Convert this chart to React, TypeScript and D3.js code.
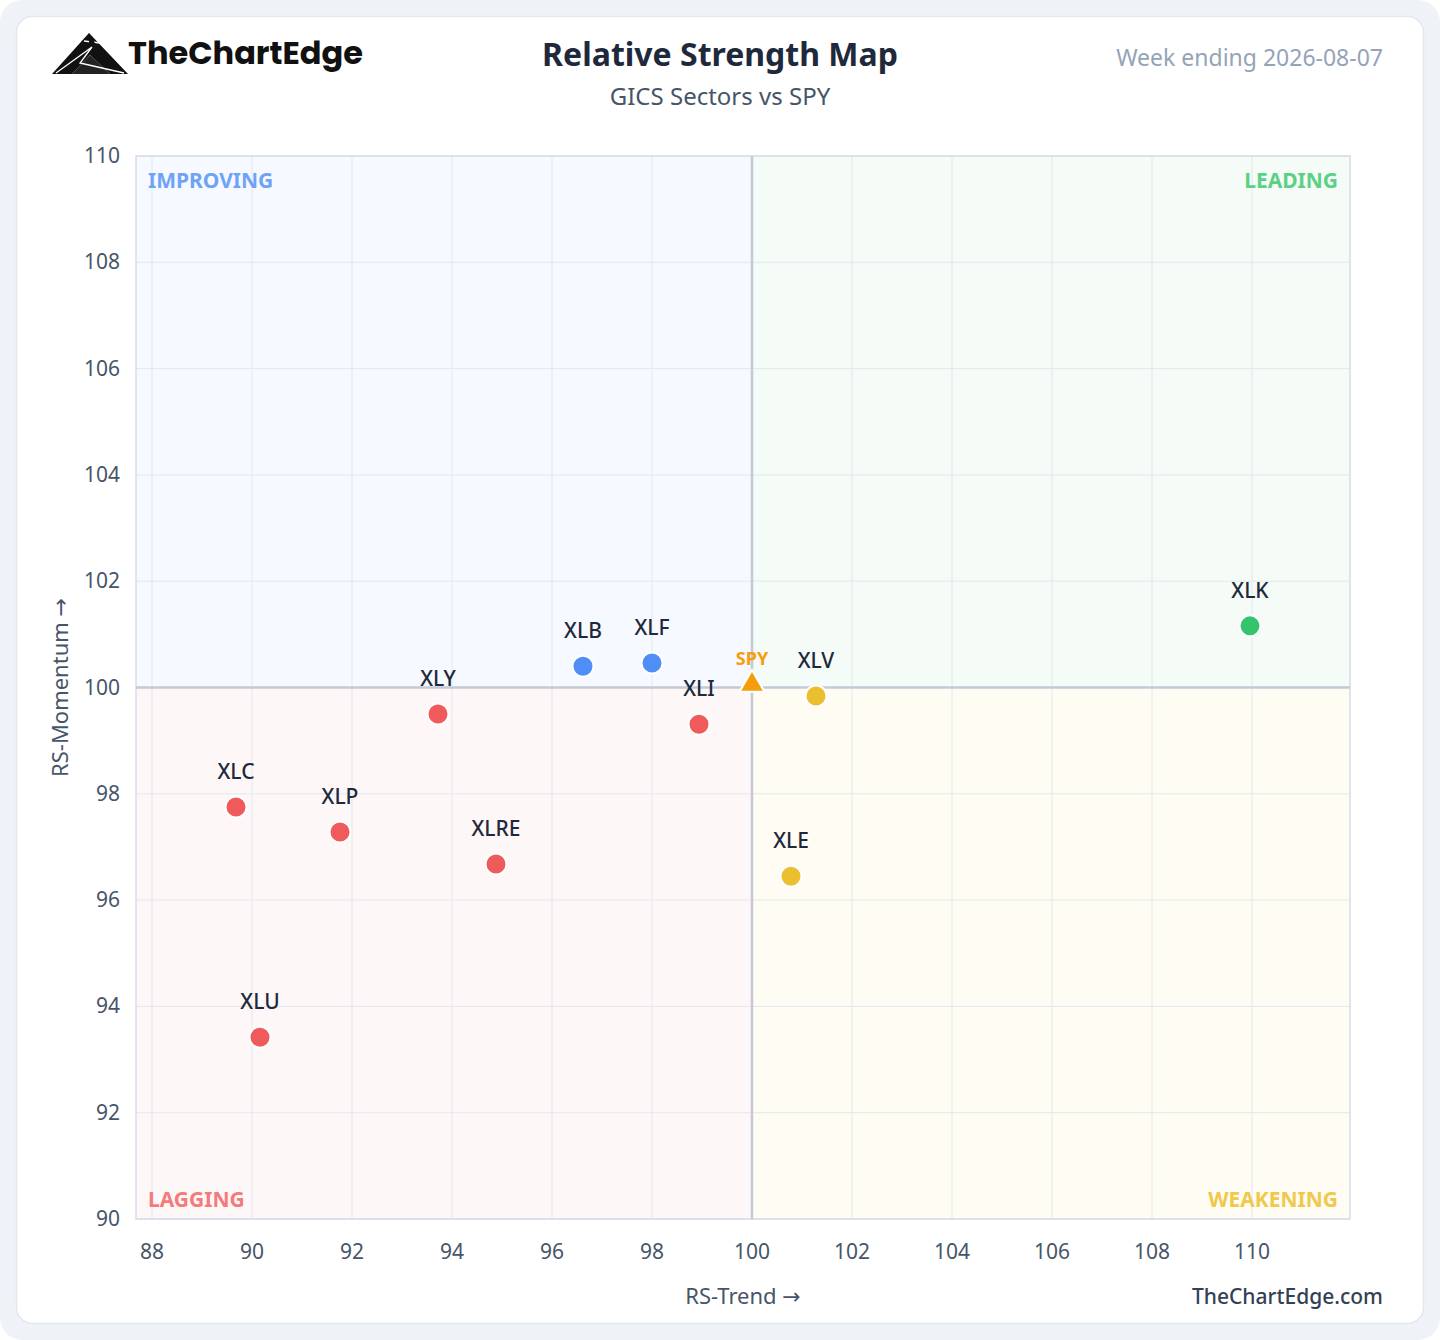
import React from "react";
import * as d3 from "d3";

const tickers = ["XLK", "XLV", "XLE", "XLI", "XLF", "XLB", "XLY", "XLC", "XLP", "XLRE", "XLU"];
const rsTrend = [109.96, 101.28, 100.78, 98.94, 98.0, 96.62, 93.72, 89.68, 91.76, 94.88, 90.16];
const rsMomentum = [101.16, 99.84, 96.45, 99.31, 100.46, 100.4, 99.5, 97.75, 97.28, 96.68, 93.42];
const benchmark = { name: "SPY", x: 100, y: 100 };
const xTicks = [88, 90, 92, 94, 96, 98, 100, 102, 104, 106, 108, 110];
const yTicks = [90, 92, 94, 96, 98, 100, 102, 104, 106, 108, 110];
const quadrantNames = ["IMPROVING", "LEADING", "LAGGING", "WEAKENING"];

const FONT = "'Noto Sans', 'Open Sans', sans-serif";
const ARROW_FONT = "'DejaVu Sans', sans-serif";

const quadColor = (x: number, y: number) => {
  if (x >= 100 && y >= 100) return "#34c46e";
  if (x < 100 && y >= 100) return "#4f8ef7";
  if (x < 100 && y < 100) return "#ef5b5b";
  return "#ecbf30";
};

export default function App() {
  const W = 1440;
  const H = 1340;
  const left = 136, right = 1350, top = 156, bottom = 1219;
  const x = d3.scaleLinear().domain([87.68, 111.96]).range([left, right]);
  const y = d3.scaleLinear().domain([90, 110]).range([bottom, top]);
  const cx = x(100), cy = y(100);

  const tri = d3.symbol().type(d3.symbolTriangle).size(270)();

  return (
    <svg width={W} height={H} style={{ position: "absolute", left: 0, top: 0, display: "block" }} fontFamily={FONT}>
      <rect x={0} y={0} width={W} height={H} rx={22} fill="#eff3f8" />
      <rect x={16.5} y={16.5} width={1407} height={1307} rx={16} fill="#ffffff" stroke="#e2e8f0" strokeWidth={1.5} />

      {/* Logo */}
      <g transform="translate(52,33)">
        <path d="M0,41 L37,0 L76,41 L58,41 L38,22 L20,41 Z" fill="#111" />
        <path d="M20,41 L38,22 L58,41 Z" fill="#222" />
        <path d="M4,40 L40,14 M40,14 L28,30 L72,40 M32,8 L48,10" stroke="#fff" strokeWidth={1.3} fill="none" />
        <path d="M37,0 L44,12 L37,10 Z" fill="#111" />
      </g>
      <text x={128} y={64} fontSize={32} fontWeight={700} fill="#111" fontFamily="'Poppins','Lato','Noto Sans',sans-serif">TheChartEdge</text>

      {/* Header */}
      <text x={720} y={66} textAnchor="middle" fontSize={32} fontWeight={700} fill="#1e293b">Relative Strength Map</text>
      <text x={720} y={105} textAnchor="middle" fontSize={24} fill="#475569">GICS Sectors vs SPY</text>
      <text x={1383} y={66} textAnchor="end" fontSize={23} fill="#94a3b8">Week ending 2026-08-07</text>

      {/* Quadrants */}
      <rect x={left} y={top} width={cx - left} height={cy - top} fill="#f6f9ff" />
      <rect x={cx} y={top} width={right - cx} height={cy - top} fill="#f5fbf7" />
      <rect x={left} y={cy} width={cx - left} height={bottom - cy} fill="#fef7f7" />
      <rect x={cx} y={cy} width={right - cx} height={bottom - cy} fill="#fffcf4" />

      {/* Grid */}
      {xTicks.map((t) => (
        <line key={"gx" + t} x1={x(t)} x2={x(t)} y1={top} y2={bottom} stroke="#e2e8f0" strokeWidth={1} />
      ))}
      {yTicks.map((t) => (
        <line key={"gy" + t} x1={left} x2={right} y1={y(t)} y2={y(t)} stroke="#e2e8f0" strokeWidth={1} />
      ))}
      <rect x={left} y={top} width={right - left} height={bottom - top} fill="none" stroke="#d5dde8" strokeWidth={1.5} />
      <line x1={cx} x2={cx} y1={top} y2={bottom} stroke="#c3cad6" strokeWidth={2.5} />
      <line x1={left} x2={right} y1={cy} y2={cy} stroke="#c3cad6" strokeWidth={2.5} />

      {/* Quadrant labels */}
      <text x={left + 12} y={top + 32} fontSize={21} fontWeight={700} fill="#6ea3f7">{quadrantNames[0]}</text>
      <text x={right - 12} y={top + 32} textAnchor="end" fontSize={21} fontWeight={700} fill="#5ad185">{quadrantNames[1]}</text>
      <text x={left + 12} y={bottom - 12} fontSize={21} fontWeight={700} fill="#f47b7b">{quadrantNames[2]}</text>
      <text x={right - 12} y={bottom - 12} textAnchor="end" fontSize={21} fontWeight={700} fill="#f0c84a">{quadrantNames[3]}</text>

      {/* Tick labels */}
      {xTicks.map((t) => (
        <text key={"tx" + t} x={x(t)} y={bottom + 40} textAnchor="middle" fontSize={21} fill="#475569">{t}</text>
      ))}
      {yTicks.map((t) => (
        <text key={"ty" + t} x={120} y={y(t) + 7} textAnchor="end" fontSize={21} fill="#475569">{t}</text>
      ))}

      {/* Axis titles */}
      <text x={743} y={1304} textAnchor="middle" fontSize={22} fill="#475569">RS-Trend <tspan fontFamily={ARROW_FONT}>→</tspan></text>
      <text transform={`translate(68,${(top + bottom) / 2}) rotate(-90)`} textAnchor="middle" fontSize={22} fill="#475569">RS-Momentum <tspan fontFamily={ARROW_FONT}>→</tspan></text>
      <text x={1383} y={1304} textAnchor="end" fontSize={21} fontWeight={500} fill="#334155">TheChartEdge.com</text>

      {/* Points */}
      {tickers.map((t, i) => (
        <g key={t}>
          <circle cx={x(rsTrend[i])} cy={y(rsMomentum[i])} r={10.5} fill={quadColor(rsTrend[i], rsMomentum[i])} stroke="#fff" strokeWidth={2} />
          <text x={x(rsTrend[i])} y={y(rsMomentum[i]) - 28} textAnchor="middle" fontSize={21} fontWeight={500} fill="#1e293b">{t}</text>
        </g>
      ))}

      {/* Benchmark */}
      <path d={tri!} transform={`translate(${x(benchmark.x)},${y(benchmark.y) - 3})`} fill="#f59e0b" stroke="#fff" strokeWidth={2} />
      <text x={x(benchmark.x)} y={y(benchmark.y) - 23} textAnchor="middle" fontSize={18} fontWeight={700} fill="#f59e0b">{benchmark.name}</text>
    </svg>
  );
}
